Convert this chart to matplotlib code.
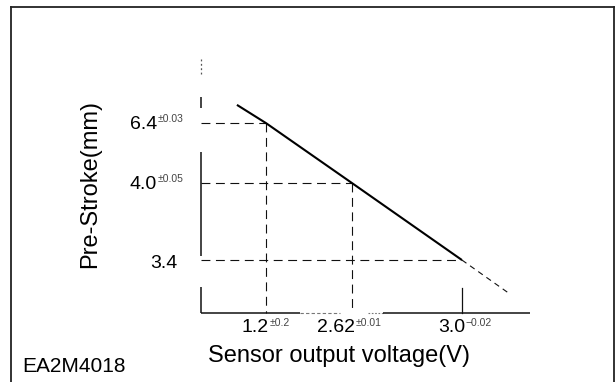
import numpy as np
import matplotlib
matplotlib.use("Agg")
import matplotlib.pyplot as plt
from matplotlib.lines import Line2D
from matplotlib.transforms import blended_transform_factory

plt.rcParams['font.family'] = ['Liberation Sans', 'DejaVu Sans']

# ---- data (schematic chart) ----
volt_ticks = [1.2, 2.62, 3.0]
volt_labels = ["1.2", "2.62", "3.0"]
volt_tol = ["\u00b10.2", "\u00b10.01", "\u22120.02"]
stroke_ticks = [6.4, 4.0, 3.4]
stroke_labels = ["6.4", "4.0", "3.4"]
stroke_tol = ["\u00b10.03", "\u00b10.05", ""]
# characteristic line (solid part) and its dashed extension
line_volt = [0.72, 1.2, 2.62, 3.0]
line_stroke = [7.13, 6.4, 4.0, 3.4]
ext_volt = [3.0, 3.166]
ext_stroke = [3.4, 3.135]
x_label = "Sensor output voltage(V)"
y_label = "Pre-Stroke(mm)"
code_label = "EA2M4018"

# schematic (non-linear) axis anchors: fraction of axis length
x_anchor_pos = [0.1976, 0.459, 0.793]
y_anchor_vals = [3.4, 4.0, 6.4]
y_anchor_pos = [0.2015, 0.494, 0.722]


def piecewise(vals, pos):
    vals = np.asarray(vals, float)
    pos = np.asarray(pos, float)
    lo = (pos[1] - pos[0]) / (vals[1] - vals[0])
    hi = (pos[-1] - pos[-2]) / (vals[-1] - vals[-2])

    def fwd(v):
        v = np.asarray(v, float)
        out = np.interp(v, vals, pos)
        out = np.where(v < vals[0], pos[0] + (v - vals[0]) * lo, out)
        out = np.where(v > vals[-1], pos[-1] + (v - vals[-1]) * hi, out)
        return out

    def inv(p):
        p = np.asarray(p, float)
        out = np.interp(p, pos, vals)
        out = np.where(p < pos[0], vals[0] + (p - pos[0]) / lo, out)
        out = np.where(p > pos[-1], vals[-1] + (p - pos[-1]) / hi, out)
        return out
    return fwd, inv


W, H = 615, 382
fig = plt.figure(figsize=(W / 100, H / 100), dpi=100)

def fx(x):
    return x / W

def fy(y):
    return 1 - y / H

# frame
frame_kw = dict(color='#222222', lw=1.3, transform=fig.transFigure)
fig.add_artist(Line2D([fx(11), fx(614)], [fy(7), fy(7)], **frame_kw))
fig.add_artist(Line2D([fx(11), fx(11)], [fy(7), fy(383)], **frame_kw))
fig.add_artist(Line2D([fx(614), fx(614)], [fy(7), fy(383)], **frame_kw))

ax = fig.add_axes([fx(201), fy(313), (530 - 201) / W, (313 - 50) / H])
for s in ax.spines.values():
    s.set_visible(False)
ax.patch.set_alpha(0)

xf, xi = piecewise(volt_ticks, x_anchor_pos)
yf, yi = piecewise(y_anchor_vals, y_anchor_pos)
ax.set_xscale('function', functions=(xf, xi))
ax.set_yscale('function', functions=(yf, yi))
x0, x1 = float(xi(0.0)), float(xi(1.0))
y0, y1 = float(yi(0.0)), float(yi(1.0))
ax.set_xlim(x0, x1)
ax.set_ylim(y0, y1)
ax.set_xticks([])
ax.set_yticks([])
ax.xaxis.set_minor_locator(plt.NullLocator())
ax.yaxis.set_minor_locator(plt.NullLocator())

dash = (0, (8, 5))
gkw = dict(color='#111111', lw=0.8, linestyle=dash, clip_on=False)

# axis lines (broken, as in the scanned original)
T = ax.transAxes
akw = dict(color='#111111', lw=1.1, transform=T, clip_on=False, solid_capstyle='butt')
ax.plot([0, 0], [0.909, 0.966], color='#555555', lw=0.9, linestyle=(0, (1.5, 2)),
        transform=T, clip_on=False)
ax.plot([0, 0], [0.779, 0.821], **akw)
ax.plot([0, 0], [0.217, 0.612], **akw)
ax.plot([0, 0], [0.0, 0.099], **akw)
ax.plot([0, 0.301], [0, 0], **akw)
ax.plot([0.301, 0.4225], [0, 0], color='#777777', lw=0.8, linestyle=(0, (3, 2)),
        transform=T, clip_on=False)
ax.plot([0.508, 0.553], [0, 0], color='#777777', lw=0.8, linestyle=(0, (1.5, 1.5)),
        transform=T, clip_on=False)
ax.plot([0.553, 1.0], [0, 0], **akw)

# guide lines
for i, (v, s) in enumerate(zip(volt_ticks, stroke_ticks)):
    ax.plot([x0, v], [s, s], **gkw)
    if i < len(volt_ticks) - 1:
        ax.plot([v, v], [s, y0], **gkw)
    else:
        ax.plot([v, v], [y0, yi(0.095)], color='#111111', lw=0.9, clip_on=False)

# characteristic line
ax.plot(line_volt, line_stroke, color='black', lw=1.5, solid_capstyle='butt', clip_on=False)
ax.plot(ext_volt, ext_stroke, color='#111111', lw=0.8, linestyle=(0, (5, 4)), clip_on=False)

# tick labels
bx = blended_transform_factory(ax.transData, ax.transAxes)
by = blended_transform_factory(ax.transAxes, ax.transData)
for v, lab, t in zip(volt_ticks, volt_labels, volt_tol):
    ax.annotate(lab, xy=(v, 0), xycoords=bx, xytext=(3, -15),
                textcoords='offset pixels', ha='right', va='center', fontsize=14)
    ax.annotate(t, xy=(v, 0), xycoords=bx, xytext=(4, -10),
                textcoords='offset pixels', ha='left', va='center', fontsize=7.5, color='#444444')
for s, lab, t in zip(stroke_ticks, stroke_labels, stroke_tol):
    if t:
        ax.annotate(lab, xy=(0, s), xycoords=by, xytext=(-44, -1),
                    textcoords='offset pixels', ha='right', va='center', fontsize=14)
        ax.annotate(t, xy=(0, s), xycoords=by, xytext=(-43, 4),
                    textcoords='offset pixels', ha='left', va='center', fontsize=7.5, color='#444444')
    else:
        ax.annotate(lab, xy=(0, s), xycoords=by, xytext=(-24, -3),
                    textcoords='offset pixels', ha='right', va='center', fontsize=14)

# labels
fig.text(fx(338.5), fy(362), x_label, ha='center', va='baseline', fontsize=17)
fig.text(fx(90), fy(184.5), y_label, ha='center', va='center', rotation=90, fontsize=17)
fig.text(fx(22), fy(372), code_label, ha='left', va='baseline', fontsize=15)

fig.savefig("out.png", dpi=100)
